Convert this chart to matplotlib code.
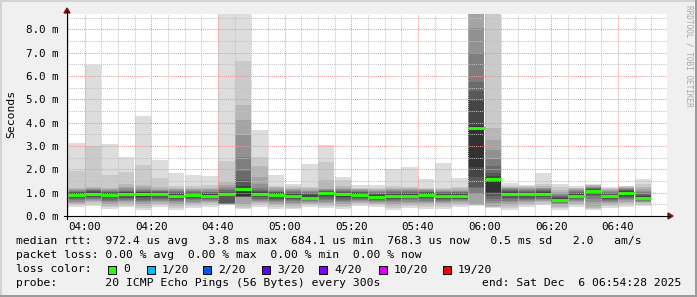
import matplotlib
matplotlib.use("Agg")
import matplotlib.dates as mdates
import matplotlib.pyplot as plt
import pandas as pd
from matplotlib.lines import Line2D
from matplotlib.patches import Polygon, Rectangle

W, H = 697, 297
MONO = "DejaVu Sans Mono"

BACK = "#f0f0f0"
SHADE_A = "#d4d4d4"
SHADE_B = "#9b9b9b"
MINOR = "#c4c4c4"
MAJOR = "#eb9a9a"
ARROW = "#7f1414"
MEDIAN = "#26ff00"

# 5 minute slots, 20 pings each (sorted rtt in ms), plus the median
slots = pd.date_range("2025-12-06 03:55", periods=35, freq="5min")
median = [0.91, 0.95, 0.91, 0.94, 0.94, 0.93, 0.87, 0.89, 0.86, 0.93,
          1.14, 0.95, 0.89, 0.87, 0.79, 0.97, 0.93, 0.90, 0.83, 0.87,
          0.87, 0.91, 0.86, 0.86, 3.78, 1.59, 0.95, 0.93, 0.95, 0.69,
          0.87, 1.07, 0.84, 1.00, 0.77]
pings = [
    [0.40, 0.47, 0.52, 0.57, 0.62, 0.67, 0.72, 0.78, 0.83, 0.88, 0.95, 0.99, 1.02, 1.05, 1.08, 1.11, 1.15, 1.19, 1.95, 3.13],
    [0.44, 0.52, 0.58, 0.63, 0.68, 0.73, 0.78, 0.83, 0.87, 0.92, 0.98, 1.02, 1.06, 1.10, 1.13, 1.17, 1.20, 1.23, 3.02, 6.49],
    [0.30, 0.38, 0.45, 0.52, 0.58, 0.64, 0.70, 0.76, 0.82, 0.88, 0.94, 0.98, 1.01, 1.04, 1.07, 1.10, 1.15, 1.20, 1.76, 3.09],
    [0.37, 0.45, 0.52, 0.58, 0.63, 0.68, 0.73, 0.78, 0.84, 0.90, 0.97, 1.01, 1.05, 1.09, 1.13, 1.18, 1.25, 1.37, 1.90, 2.52],
    [0.26, 0.35, 0.44, 0.52, 0.58, 0.64, 0.70, 0.76, 0.83, 0.90, 0.97, 1.01, 1.05, 1.09, 1.13, 1.17, 1.24, 1.33, 2.19, 4.29],
    [0.40, 0.47, 0.53, 0.58, 0.63, 0.68, 0.73, 0.79, 0.85, 0.90, 0.96, 1.00, 1.03, 1.06, 1.09, 1.12, 1.17, 1.23, 1.63, 2.42],
    [0.26, 0.35, 0.44, 0.52, 0.58, 0.63, 0.69, 0.74, 0.79, 0.84, 0.90, 0.94, 0.98, 1.02, 1.06, 1.10, 1.15, 1.20, 1.30, 1.85],
    [0.33, 0.42, 0.50, 0.56, 0.62, 0.67, 0.72, 0.77, 0.82, 0.86, 0.92, 0.96, 1.00, 1.04, 1.08, 1.12, 1.16, 1.20, 1.30, 1.76],
    [0.40, 0.48, 0.54, 0.59, 0.64, 0.68, 0.72, 0.76, 0.80, 0.84, 0.89, 0.93, 0.97, 1.01, 1.05, 1.10, 1.15, 1.22, 1.35, 1.72],
    [0.47, 0.49, 0.50, 0.51, 0.52, 0.53, 0.54, 0.55, 0.85, 0.89, 0.97, 1.00, 1.05, 1.10, 1.15, 1.25, 1.35, 1.47, 2.36, 8.90],
    [0.32, 0.36, 0.42, 0.50, 0.80, 0.81, 0.82, 0.83, 0.84, 0.85, 1.20, 1.30, 1.55, 1.94, 2.55, 3.48, 4.10, 4.76, 6.65, 8.90],
    [0.40, 0.47, 0.54, 0.60, 0.65, 0.70, 0.75, 0.80, 0.85, 0.90, 0.98, 1.02, 1.06, 1.12, 1.20, 1.38, 1.66, 2.13, 2.54, 3.69],
    [0.30, 0.38, 0.46, 0.53, 0.59, 0.65, 0.70, 0.75, 0.80, 0.85, 0.93, 0.97, 1.01, 1.05, 1.09, 1.13, 1.18, 1.24, 1.30, 1.76],
    [0.28, 0.36, 0.44, 0.51, 0.57, 0.63, 0.69, 0.74, 0.79, 0.84, 0.90, 0.94, 0.98, 1.02, 1.06, 1.10, 1.15, 1.20, 1.27, 1.38],
    [0.40, 0.46, 0.51, 0.56, 0.60, 0.64, 0.68, 0.71, 0.74, 0.77, 0.83, 0.88, 0.93, 0.98, 1.03, 1.08, 1.13, 1.18, 1.26, 2.24],
    [0.33, 0.41, 0.49, 0.56, 0.62, 0.68, 0.74, 0.80, 0.86, 0.92, 1.00, 1.03, 1.06, 1.09, 1.12, 1.14, 1.16, 1.56, 2.33, 3.05],
    [0.28, 0.37, 0.45, 0.52, 0.58, 0.64, 0.70, 0.76, 0.82, 0.88, 0.96, 1.00, 1.04, 1.08, 1.12, 1.17, 1.22, 1.30, 1.56, 1.69],
    [0.44, 0.50, 0.55, 0.60, 0.65, 0.70, 0.74, 0.78, 0.82, 0.86, 0.93, 0.97, 1.01, 1.05, 1.08, 1.11, 1.14, 1.17, 1.20, 1.33],
    [0.40, 0.46, 0.52, 0.57, 0.62, 0.66, 0.70, 0.74, 0.77, 0.80, 0.86, 0.90, 0.94, 0.98, 1.02, 1.06, 1.10, 1.15, 1.20, 1.33],
    [0.26, 0.35, 0.44, 0.52, 0.58, 0.64, 0.70, 0.75, 0.80, 0.84, 0.90, 0.94, 0.98, 1.02, 1.06, 1.10, 1.15, 1.20, 1.27, 2.00],
    [0.33, 0.41, 0.49, 0.56, 0.62, 0.67, 0.72, 0.76, 0.80, 0.84, 0.90, 0.94, 0.98, 1.02, 1.06, 1.10, 1.14, 1.18, 1.23, 2.10],
    [0.28, 0.37, 0.46, 0.54, 0.60, 0.66, 0.72, 0.78, 0.83, 0.88, 0.94, 0.98, 1.02, 1.05, 1.08, 1.11, 1.14, 1.17, 1.20, 1.59],
    [0.28, 0.37, 0.46, 0.54, 0.60, 0.65, 0.70, 0.74, 0.78, 0.83, 0.89, 0.93, 0.97, 1.01, 1.05, 1.09, 1.13, 1.17, 1.20, 2.27],
    [0.40, 0.47, 0.53, 0.58, 0.63, 0.67, 0.71, 0.75, 0.79, 0.83, 0.89, 0.93, 0.97, 1.01, 1.05, 1.09, 1.13, 1.18, 1.23, 1.63],
    [0.45, 0.46, 0.47, 0.51, 0.93, 0.94, 1.22, 1.23, 1.68, 2.12, 3.85, 4.95, 5.35, 5.74, 6.98, 8.07, 8.90, 8.90, 8.90, 8.90],
    [0.35, 0.38, 0.40, 0.45, 0.55, 0.65, 0.75, 0.85, 0.95, 1.05, 1.65, 1.72, 1.84, 2.13, 2.45, 2.81, 3.27, 3.78, 8.90, 8.90],
    [0.26, 0.36, 0.45, 0.53, 0.60, 0.66, 0.72, 0.78, 0.84, 0.90, 0.98, 1.02, 1.06, 1.10, 1.14, 1.18, 1.22, 1.25, 1.27, 1.42],
    [0.40, 0.47, 0.53, 0.59, 0.64, 0.69, 0.74, 0.79, 0.84, 0.89, 0.96, 1.00, 1.04, 1.08, 1.12, 1.16, 1.20, 1.24, 1.28, 1.33],
    [0.47, 0.53, 0.58, 0.63, 0.67, 0.71, 0.75, 0.80, 0.85, 0.90, 0.98, 1.02, 1.06, 1.10, 1.14, 1.18, 1.22, 1.28, 1.38, 1.85],
    [0.26, 0.33, 0.40, 0.46, 0.51, 0.55, 0.59, 0.62, 0.65, 0.67, 0.72, 0.76, 0.80, 0.85, 0.90, 0.96, 1.02, 1.10, 1.23, 1.38],
    [0.40, 0.47, 0.53, 0.58, 0.63, 0.68, 0.72, 0.76, 0.80, 0.84, 0.90, 0.94, 0.98, 1.02, 1.06, 1.10, 1.14, 1.18, 1.22, 1.27],
    [0.26, 0.30, 0.35, 0.45, 0.60, 0.75, 0.85, 0.92, 0.98, 1.03, 1.10, 1.13, 1.16, 1.19, 1.22, 1.25, 1.28, 1.31, 1.34, 1.37],
    [0.35, 0.42, 0.48, 0.54, 0.59, 0.64, 0.69, 0.73, 0.77, 0.81, 0.87, 0.91, 0.95, 0.99, 1.03, 1.07, 1.11, 1.15, 1.19, 1.23],
    [0.40, 0.48, 0.55, 0.61, 0.67, 0.72, 0.77, 0.82, 0.87, 0.93, 1.03, 1.07, 1.10, 1.13, 1.16, 1.19, 1.22, 1.25, 1.28, 1.30],
    [0.44, 0.49, 0.54, 0.58, 0.62, 0.65, 0.68, 0.71, 0.73, 0.75, 0.80, 0.85, 0.90, 0.96, 1.02, 1.08, 1.15, 1.25, 1.38, 1.59],
]

legend_rtt = "median rtt:  972.4 us avg   3.8 ms max  684.1 us min  768.3 us now   0.5 ms sd   2.0   am/s"
legend_loss = "packet loss: 0.00 % avg  0.00 % max  0.00 % min  0.00 % now"
loss_labels = ["0", "1/20", "2/20", "3/20", "4/20", "10/20", "19/20"]
loss_colors = ["#26ff00", "#00b8ff", "#0059ff", "#5e00ff", "#7e00ff", "#dd00ff", "#ff0000"]
loss_box_x = [108, 147, 203, 262, 319, 379, 443]
legend_probe = "probe:       20 ICMP Echo Pings (56 Bytes) every 300s"
end_text = "end: Sat Dec  6 06:54:28 2025"


def fx(x):
    return x / W


def fy(y):
    return 1 - y / H


fig = plt.figure(figsize=(W / 100, H / 100), dpi=100)
fig.patch.set_facecolor(BACK)

# 3d frame
fig.add_artist(Rectangle((0, fy(2)), 1, 2 / H, transform=fig.transFigure, color=SHADE_A, lw=0))
fig.add_artist(Rectangle((0, 0), 2 / W, 1, transform=fig.transFigure, color=SHADE_A, lw=0))
fig.add_artist(Rectangle((0, 0), 1, 2 / H, transform=fig.transFigure, color=SHADE_B, lw=0))
fig.add_artist(Rectangle((fx(W - 2), 0), 2 / W, 1, transform=fig.transFigure, color=SHADE_B, lw=0))

ax = fig.add_axes([fx(67), fy(216), 600 / W, 202 / H])
ax.set_facecolor("white")

x0 = mdates.date2num(slots)
width = 5 / 1440

# smoke: outer pairs light, inner pairs dark (smokeping palette)
half = 10
for k in range(half):
    lo = [p[k] for p in pings]
    hi = [p[19 - k] for p in pings]
    g = int(190 / half * (half - (k + 1))) + 50
    ax.bar(x0, [h - l for h, l in zip(hi, lo)], bottom=lo, width=width, align="edge",
           color="#%02x%02x%02x" % (g, g, g), linewidth=0, zorder=1)

ax.hlines(median, x0, x0 + width, colors=MEDIAN, linewidth=2.1, zorder=2)

start = mdates.date2num(pd.Timestamp("2025-12-06 03:54:45"))
ax.set_xlim(start, start + 180 / 1440)
ax.set_ylim(0, 8.66)

ax.xaxis.set_major_locator(mdates.MinuteLocator(byminute=range(0, 60, 20)))
ax.xaxis.set_minor_locator(mdates.MinuteLocator(byminute=range(0, 60, 5)))
ax.xaxis.set_major_formatter(mdates.DateFormatter("%H:%M"))
ax.yaxis.set_major_locator(plt.MultipleLocator(1.0))
ax.yaxis.set_minor_locator(plt.MultipleLocator(0.5))
ax.yaxis.set_major_formatter(plt.FuncFormatter(lambda v, _: "%.1f m" % v))

ax.set_axisbelow(False)
ax.grid(True, which="minor", color=MINOR, linestyle=(0, (1, 1)), linewidth=0.75)
ax.grid(True, which="major", color=MAJOR, linestyle=(0, (1, 1)), linewidth=0.75)
ax.tick_params(which="both", length=0, labelsize=7.8, labelfontfamily=MONO)
ax.tick_params(axis="y", pad=6)
ax.tick_params(axis="x", pad=4)
for s in ax.spines.values():
    s.set_visible(False)

fig.text(fx(11), fy(114), "Seconds", rotation=90, ha="center", va="center",
         fontsize=8.2, family=MONO)

# axes with arrows
fig.add_artist(Line2D([fx(67), fx(67)], [fy(219), fy(11)], color="black", lw=0.8))
fig.add_artist(Line2D([fx(64), fx(670)], [fy(216), fy(216)], color="black", lw=0.8))
fig.add_artist(Polygon([(fx(64), fy(13)), (fx(70), fy(13)), (fx(67), fy(8))],
                       closed=True, color=ARROW, transform=fig.transFigure))
fig.add_artist(Polygon([(fx(668), fy(213)), (fx(668), fy(219)), (fx(673), fy(216))],
                       closed=True, color=ARROW, transform=fig.transFigure))

fig.text(fx(689), fy(5), "RRDTOOL / TOBI OETIKER", rotation=270, ha="center", va="top",
         fontsize=5.6, family=MONO, color="#a8a8a8")

txt = dict(fontsize=8.2, family=MONO, va="center", ha="left")
fig.text(fx(16), fy(241), legend_rtt, **txt)
fig.text(fx(16), fy(255.5), legend_loss, **txt)
fig.text(fx(16), fy(269.5), "loss color:", **txt)
for x, lab, col in zip(loss_box_x, loss_labels, loss_colors):
    fig.add_artist(Rectangle((fx(x), fy(273.5)), 8 / W, 8 / H, transform=fig.transFigure,
                             facecolor=col, edgecolor="black", lw=0.7))
    fig.text(fx(x + 15), fy(269.5), lab, **txt)
fig.text(fx(16), fy(283.5), legend_probe, **txt)
fig.text(fx(681), fy(283.5), end_text, fontsize=8.2, family=MONO, va="center", ha="right")

fig.savefig("out.png", dpi=100, facecolor=BACK)
